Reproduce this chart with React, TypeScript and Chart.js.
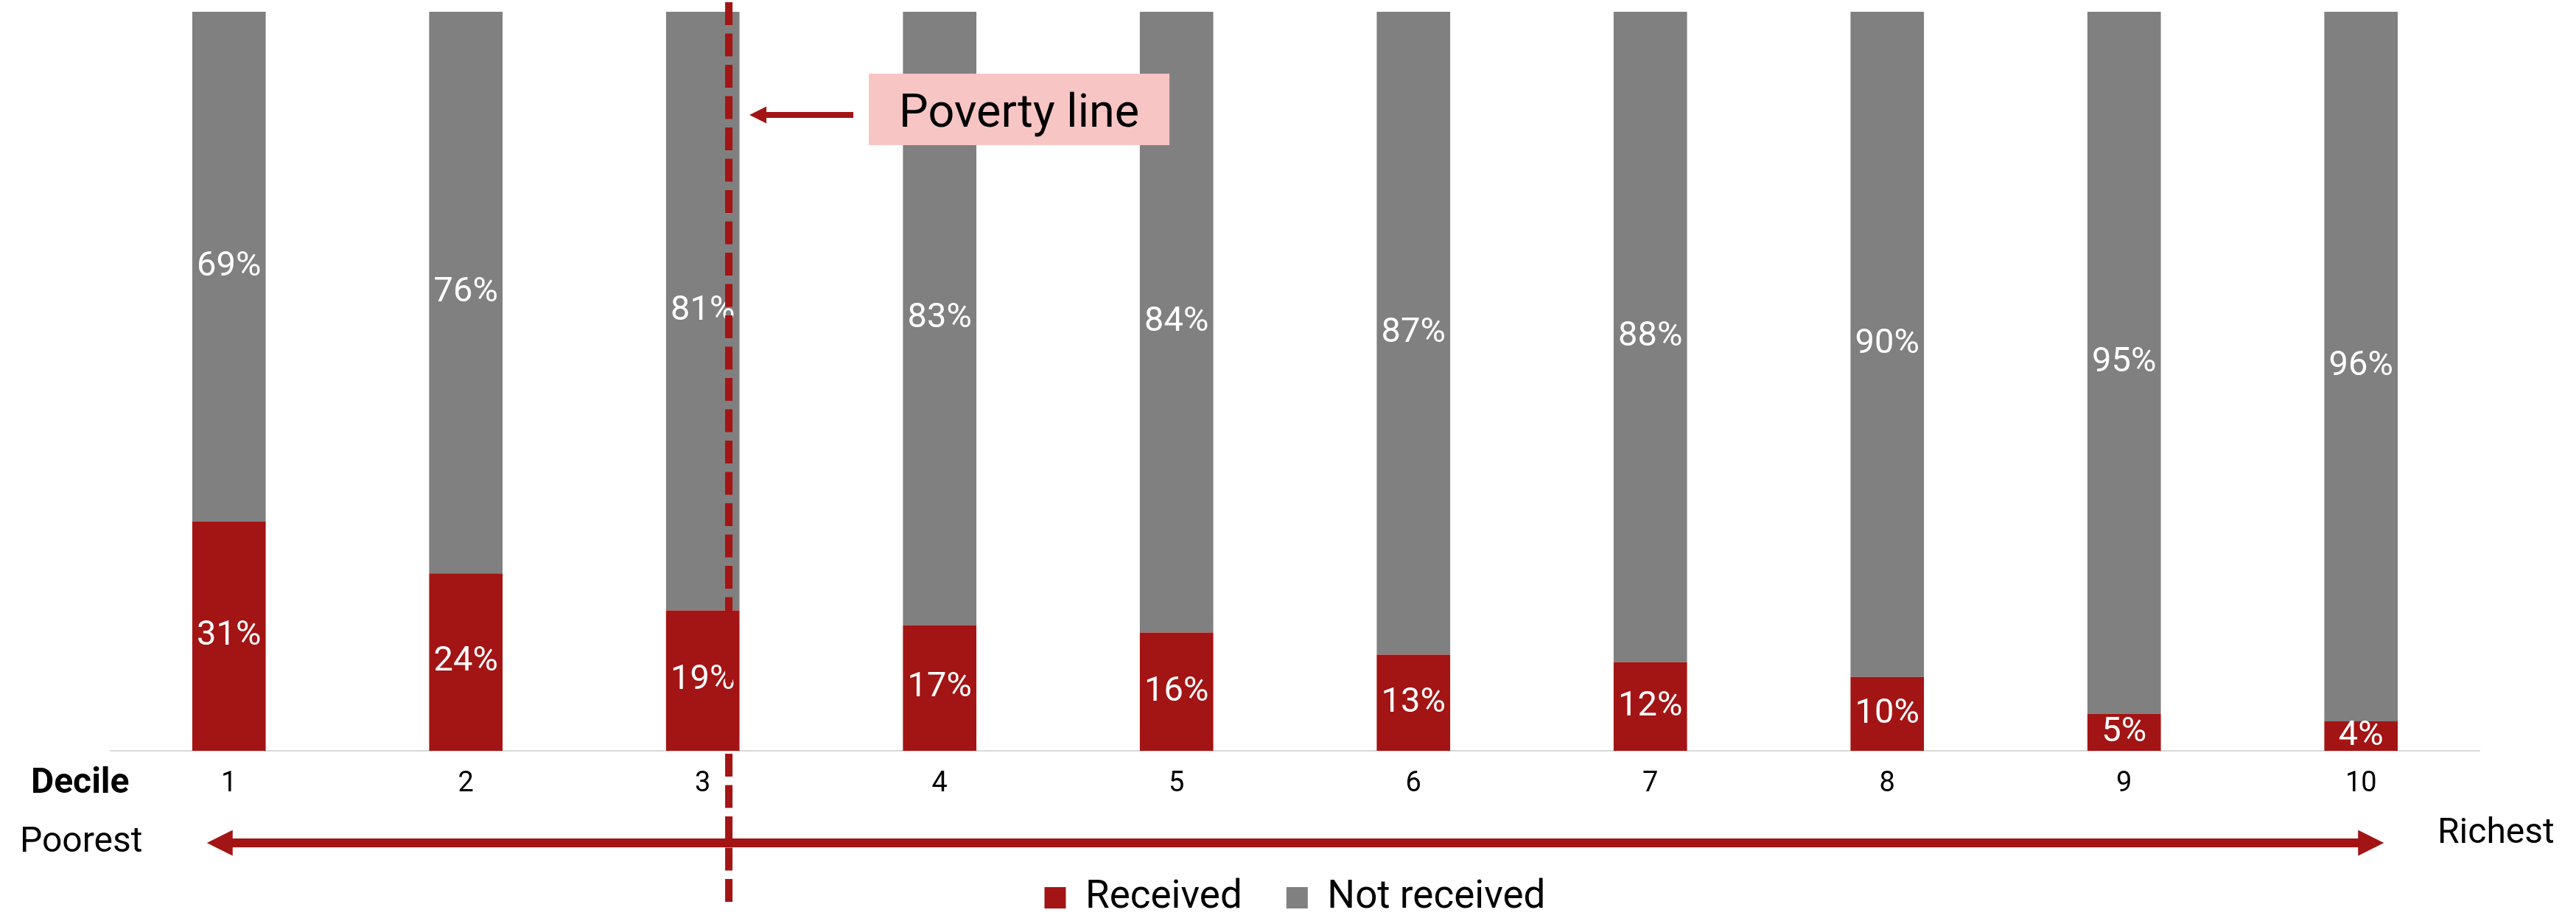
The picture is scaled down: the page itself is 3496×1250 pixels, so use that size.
import React, { useEffect, useRef } from "react";
import { Chart, registerables } from "chart.js";

Chart.register(...registerables);

// ---- data ----
const DECILES = ["1", "2", "3", "4", "5", "6", "7", "8", "9", "10"];
const RECEIVED = [31, 24, 19, 17, 16, 13, 12, 10, 5, 4];
const NOT_RECEIVED = [69, 76, 81, 83, 84, 87, 88, 90, 95, 96];
const SERIES_LABELS = ["Received", "Not received"];
const AXIS_TITLE = "Decile";
const LOW_END = "Poorest";
const HIGH_END = "Richest";
const POVERTY_LABEL = "Poverty line";
const POVERTY_LINE_AT = 2.11; // position on the decile index axis (0-based)

const RED = "#A31414";
const GREY = "#808080";
const PINK = "#F8C5C5";
const FONT = "Roboto";

const CANVAS_W = 3496;
const CANVAS_H = 1255; // a few px taller than the viewport; container clips it

function head(ctx: CanvasRenderingContext2D, tipX: number, y: number, dir: number, len: number, half: number) {
  ctx.beginPath();
  ctx.moveTo(tipX, y);
  ctx.lineTo(tipX - dir * len, y - half);
  ctx.lineTo(tipX - dir * len, y + half);
  ctx.closePath();
  ctx.fill();
}

const overlayPlugin = {
  id: "overlay",
  afterDatasetsDraw(chart: any) {
    const ctx: CanvasRenderingContext2D = chart.ctx;
    ctx.save();
    ctx.fillStyle = "#ffffff";
    ctx.font = `47px ${FONT}`;
    ctx.textAlign = "center";
    ctx.textBaseline = "middle";
    chart.data.datasets.forEach((ds: any, di: number) => {
      const meta = chart.getDatasetMeta(di);
      meta.data.forEach((el: any, i: number) => {
        const { x, y, base } = el.getProps(["x", "y", "base"], true);
        ctx.fillText(`${ds.data[i]}%`, x, (y + base) / 2);
      });
    });
    ctx.restore();
  },
  afterDraw(chart: any) {
    const ctx: CanvasRenderingContext2D = chart.ctx;
    const xs = chart.scales.x;
    const area = chart.chartArea;
    const step = xs.getPixelForValue(1) - xs.getPixelForValue(0);
    const lineX = xs.getPixelForValue(Math.floor(POVERTY_LINE_AT)) + (POVERTY_LINE_AT - Math.floor(POVERTY_LINE_AT)) * step;

    ctx.save();
    // axis title
    ctx.fillStyle = "#000";
    ctx.textBaseline = "middle";
    ctx.textAlign = "left";
    ctx.font = `bold 48px ${FONT}`;
    ctx.fillText(AXIS_TITLE, 42, area.bottom + 45);

    // Poorest / Richest
    ctx.font = `48px ${FONT}`;
    ctx.fillText(LOW_END, 27, area.bottom + 125);
    ctx.fillText(HIGH_END, 3308, area.bottom + 113);

    // double arrow
    ctx.fillStyle = RED;
    const ay = area.bottom + 125;
    const xl = xs.getPixelForValue(0) - 30;
    const xr = xs.getPixelForValue(DECILES.length - 1) + 31;
    ctx.fillRect(xl + 30, ay - 6, xr - xl - 60, 12);
    head(ctx, xl, ay, -1, 35, 17.5);
    head(ctx, xr, ay, 1, 35, 17.5);

    // poverty label box
    const boxL = lineX + 190;
    const boxT = area.top + 84;
    ctx.fillStyle = PINK;
    ctx.fillRect(boxL, boxT, 408, 97);
    ctx.fillStyle = "#000";
    ctx.font = `63px ${FONT}`;
    ctx.textAlign = "center";
    ctx.textBaseline = "alphabetic";
    ctx.fillText(POVERTY_LABEL, boxL + 204, boxT + 72);

    // pointer arrow
    ctx.fillStyle = RED;
    const py = area.top + 140;
    ctx.fillRect(lineX + 45, py - 4, 124, 8);
    head(ctx, lineX + 28, py, -1, 23, 11.5);

    // dashed poverty line
    ctx.strokeStyle = RED;
    ctx.lineWidth = 10;
    ctx.setLineDash([31, 11.5]);
    ctx.beginPath();
    ctx.moveTo(lineX, 3);
    ctx.lineTo(lineX, area.bottom + 206);
    ctx.stroke();
    ctx.restore();
  },
};

export default function App() {
  const ref = useRef<HTMLCanvasElement | null>(null);

  useEffect(() => {
    document.body.style.margin = "0";
    if (!ref.current) return;
    const chart = new Chart(ref.current, {
      type: "bar",
      data: {
        labels: DECILES,
        datasets: [
          { label: SERIES_LABELS[0], data: RECEIVED, backgroundColor: RED, borderWidth: 0 },
          { label: SERIES_LABELS[1], data: NOT_RECEIVED, backgroundColor: GREY, borderWidth: 0 },
        ],
      },
      options: {
        animation: false,
        responsive: false,
        events: [],
        layout: { padding: { left: 150, right: 131, top: 16, bottom: 0 } },
        datasets: { bar: { barPercentage: 0.31, categoryPercentage: 1 } },
        scales: {
          x: {
            stacked: true,
            grid: { display: false, drawTicks: false },
            border: { display: true, color: "#D9D9D9", width: 2 },
            ticks: { color: "#000", font: { family: FONT, size: 38 }, padding: 23, maxRotation: 0, autoSkip: false },
            afterFit: (scale: any) => {
              scale.height = 113;
            },
          },
          y: { stacked: true, display: false, min: 0, max: 100 },
        },
        plugins: {
          legend: {
            position: "bottom",
            labels: {
              color: "#000",
              font: { family: FONT, size: 53 },
              boxWidth: 29,
              boxHeight: 29,
              padding: 60,
            },
          },
          tooltip: { enabled: false },
        },
      },
      plugins: [overlayPlugin],
    } as any);
    return () => chart.destroy();
  }, []);

  return (
    <div style={{ position: "absolute", left: 0, top: 0, width: 3496, height: 1250, overflow: "hidden" }}>
      <canvas ref={ref} width={CANVAS_W} height={CANVAS_H} style={{ width: CANVAS_W, height: CANVAS_H, display: "block" }} />
    </div>
  );
}
